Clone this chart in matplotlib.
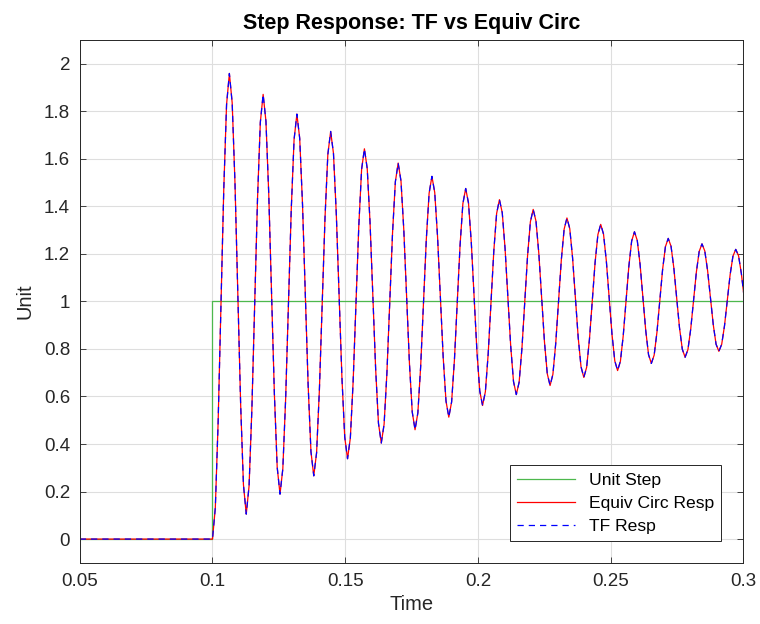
import numpy as np
import matplotlib.pyplot as plt

plt.rcParams['font.family'] = ['Liberation Sans', 'DejaVu Sans']

# response, six samples per half-period starting at t = 0.1
step_time = 0.1
dt = 0.00106
resp_vals = [
    0.000,
    0.131, 0.490, 0.980, 1.469, 1.828, 1.959,
    1.835, 1.496, 1.032, 0.569, 0.229, 0.105,
    0.223, 0.547, 0.988, 1.430, 1.753, 1.871,
    1.758, 1.451, 1.030, 0.610, 0.302, 0.189,
    0.296, 0.589, 0.989, 1.388, 1.681, 1.788,
    1.686, 1.408, 1.027, 0.647, 0.368, 0.266,
    0.363, 0.628, 0.991, 1.353, 1.618, 1.715,
    1.623, 1.371, 1.026, 0.682, 0.430, 0.338,
    0.425, 0.664, 0.990, 1.316, 1.555, 1.642,
    1.559, 1.333, 1.023, 0.714, 0.487, 0.404,
    0.483, 0.699, 0.993, 1.288, 1.503, 1.582,
    1.507, 1.302, 1.021, 0.741, 0.535, 0.460,
    0.531, 0.727, 0.993, 1.260, 1.455, 1.526,
    1.458, 1.273, 1.019, 0.766, 0.581, 0.513,
    0.577, 0.754, 0.994, 1.235, 1.411, 1.475,
    1.414, 1.247, 1.019, 0.790, 0.623, 0.562,
    0.620, 0.779, 0.995, 1.212, 1.370, 1.428,
    1.373, 1.223, 1.018, 0.813, 0.663, 0.608,
    0.660, 0.803, 0.998, 1.192, 1.335, 1.387,
    1.337, 1.202, 1.017, 0.831, 0.696, 0.646,
    0.693, 0.822, 0.999, 1.175, 1.304, 1.351,
    1.306, 1.183, 1.016, 0.848, 0.725, 0.680,
    0.723, 0.841, 1.002, 1.163, 1.281, 1.324,
    1.283, 1.170, 1.017, 0.863, 0.750, 0.709,
    0.748, 0.855, 1.001, 1.147, 1.254, 1.293,
    1.256, 1.155, 1.016, 0.878, 0.776, 0.739,
    0.774, 0.871, 1.002, 1.134, 1.230, 1.265,
    1.232, 1.140, 1.015, 0.890, 0.799, 0.765,
    0.797, 0.884, 1.004, 1.123, 1.210, 1.242,
    1.212, 1.129, 1.016, 0.903, 0.820, 0.790,
    0.819, 0.897, 1.005, 1.112, 1.190, 1.219,
    1.192, 1.117, 1.015,
]

t_resp = np.concatenate([[0.05], step_time + dt*np.arange(len(resp_vals))])
y_resp = np.concatenate([[0.0], resp_vals])

t_step = [0.05, step_time, step_time, 0.3]
y_step = [0, 0, 1, 1]

dark = (0.15, 0.15, 0.15)

fig = plt.figure(figsize=(7.6, 6.24), dpi=100)
ax = fig.add_axes([0.105, 0.098, 0.873, 0.838])

ax.plot(t_step, y_step, color=(0.3, 0.72, 0.3), lw=0.9, label='Unit Step')
ax.plot(t_resp, y_resp, color='red', lw=0.9, label='Equiv Circ Resp')
ax.plot(t_resp, y_resp, color='blue', lw=0.9, ls=(0, (5, 4)), label='TF Resp')

ax.set_xlim(0.05, 0.3)
ax.set_ylim(-0.1, 2.1)
ax.set_xticks(np.arange(0.05, 0.31, 0.05))
ax.set_xticklabels(['0.05', '0.1', '0.15', '0.2', '0.25', '0.3'])
yt = np.round(np.arange(0, 2.01, 0.2), 1)
ax.set_yticks(yt)
ax.set_yticklabels(['%g' % v for v in yt])

ax.grid(True, color=(0.87, 0.87, 0.87), lw=0.8)
ax.set_axisbelow(True)
ax.tick_params(direction='in', top=True, right=True, length=4, width=0.6,
               labelsize=13.5, colors=dark, pad=7)
for s in ax.spines.values():
    s.set_color(dark)
    s.set_linewidth(0.7)

ax.set_xlabel('Time', fontsize=14.5, color=dark)
ax.set_ylabel('Unit', fontsize=14.5, color=dark, labelpad=7)
ax.set_title('Step Response: TF vs Equiv Circ', fontsize=15.5, fontweight='bold', pad=8)

leg = ax.legend(loc='lower right', fontsize=12.6, fancybox=False, framealpha=1,
                edgecolor=dark, borderaxespad=1.25, handlelength=3.3,
                labelspacing=0.45)
leg.get_frame().set_linewidth(0.7)

fig.savefig('out.png', dpi=100)
